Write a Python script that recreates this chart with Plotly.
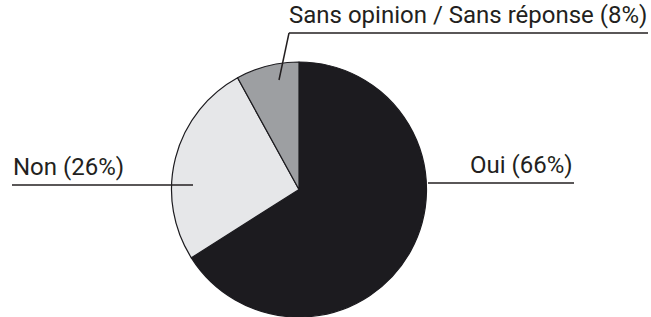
import plotly.graph_objects as go

labels = ["Oui", "Non", "Sans opinion / Sans réponse"]
values = [66, 26, 8]
colors = ["#1c1b1f", "#e6e7e9", "#9d9fa2"]
label_texts = ["Oui (66%)", "Non (26%)", "Sans opinion / Sans réponse (8%)"]

W, H = 651, 317
cx, cy, r = 299, 190, 128

def px(x):
    return x / W

def py(y):
    return 1 - y / H

fig = go.Figure(go.Pie(
    labels=labels,
    values=values,
    marker=dict(colors=colors, line=dict(color="#1c1b1f", width=1.2)),
    sort=False,
    direction="clockwise",
    rotation=0,
    textinfo="none",
    hoverinfo="label+percent",
    domain=dict(x=[px(cx - r), px(cx + r)], y=[max(0, py(cy + r)), py(cy - r)]),
    showlegend=False,
))

line_col = "#231f20"
font = dict(family="Roboto", size=24, color="#231f20")

# label layout: text x, anchor, underline y, underline x0/x1, optional leader end
layout_specs = [
    dict(tx=574, xanchor="right", uy=183, x0=428, x1=574, leader=None),
    dict(tx=12, xanchor="left", uy=185, x0=12, x1=193, leader=None),
    dict(tx=648, xanchor="right", uy=33, x0=289, x1=648, leader=(279, 80)),
]

shapes = []
annotations = []
for txt, s in zip(label_texts, layout_specs):
    shapes.append(dict(type="line", xref="paper", yref="paper",
                       x0=px(s["x0"]), x1=px(s["x1"]), y0=py(s["uy"]), y1=py(s["uy"]),
                       line=dict(color=line_col, width=1.5)))
    if s["leader"]:
        lx, ly = s["leader"]
        shapes.append(dict(type="line", xref="paper", yref="paper",
                           x0=px(s["x0"]), x1=px(lx), y0=py(s["uy"]), y1=py(ly),
                           line=dict(color=line_col, width=1.5)))
    annotations.append(dict(text=txt, xref="paper", yref="paper",
                            x=px(s["tx"]), y=py(s["uy"] - 3), xanchor=s["xanchor"],
                            yanchor="bottom", showarrow=False, font=font,
                            borderpad=0))

fig.update_layout(
    width=W, height=H,
    margin=dict(l=0, r=0, t=0, b=0),
    paper_bgcolor="white", plot_bgcolor="white",
    shapes=shapes, annotations=annotations,
)

fig.write_html("out.html", config={"displayModeBar": False},
               post_script="document.body.style.margin='0';")
